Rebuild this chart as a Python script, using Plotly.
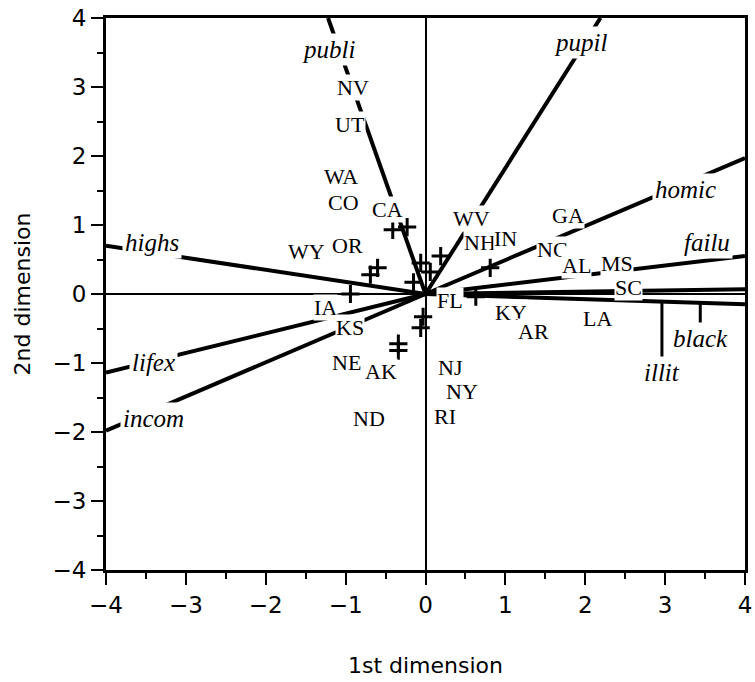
import plotly.graph_objects as go

# ---- variable vectors (end points where each vector meets the frame) ----
var_names = ["publi", "pupil", "homic", "failu", "black", "illit", "highs", "lifex", "incom"]
var_x = [-1.22, 2.19, 4.0, 4.0, 4.0, 4.0, -4.0, -4.0, -4.0]
var_y = [4.0, 4.0, 1.97, 0.55, 0.07, -0.15, 0.70, -1.14, -1.98]
# variable label positions
var_lab_x = [-1.21, 1.94, 3.25, 3.53, 3.44, 2.96, -3.43, -3.41, -3.40]
var_lab_y = [3.54, 3.65, 1.51, 0.75, -0.64, -1.14, 0.74, -0.99, -1.80]

# ---- labelled observations (states) ----
states = ["NV", "UT", "WA", "CO", "CA", "OR", "WY", "WV", "NH", "IN", "GA", "NC",
          "AL", "MS", "SC", "FL", "KY", "AR", "LA", "IA", "KS", "NE", "AK", "ND",
          "NJ", "NY", "RI"]
state_x = [-0.91, -0.94, -1.06, -1.03, -0.48, -0.98, -1.49, 0.58, 0.68, 1.00, 1.79, 1.59,
           1.89, 2.40, 2.54, 0.31, 1.07, 1.35, 2.15, -1.25, -0.94, -0.99, -0.56, -0.71,
           0.31, 0.46, 0.25]
state_y = [2.99, 2.45, 1.70, 1.33, 1.23, 0.71, 0.61, 1.09, 0.74, 0.81, 1.14, 0.64,
           0.42, 0.44, 0.10, -0.09, -0.27, -0.54, -0.35, -0.20, -0.49, -0.99, -1.13, -1.80,
           -1.06, -1.42, -1.78]

# ---- unlabelled observations (+) ----
plus_x = [-0.41, -0.23, 0.19, -0.60, -0.69, -0.06, -0.15, 0.81, 0.63, -0.03, -0.06,
          -0.34, -0.34, -0.94, 0.06]
plus_y = [0.93, 0.97, 0.55, 0.38, 0.28, 0.45, 0.17, 0.38, -0.04, -0.33, -0.49,
          -0.72, -0.82, 0.0, 0.32]

# variables whose labels hang from the lowest right-hand vector
leader_vars = ["black", "illit"]

fig = go.Figure()

# vectors from origin
for name, vx, vy in zip(var_names, var_x, var_y):
    fig.add_trace(go.Scatter(x=[0, vx], y=[0, vy], mode="lines",
                             line=dict(color="black", width=4), hoverinfo="skip",
                             showlegend=False))

# leader lines for black / illit
ix = var_names.index("illit")
slope = var_y[ix] / var_x[ix]
for v in leader_vars:
    i = var_names.index(v)
    lx = var_lab_x[i]
    fig.add_trace(go.Scatter(x=[lx, lx], y=[slope * lx, var_lab_y[i] + 0.15], mode="lines",
                             line=dict(color="black", width=3), hoverinfo="skip",
                             showlegend=False))

# plus markers
fig.add_trace(go.Scatter(x=plus_x, y=plus_y, mode="markers",
                         marker=dict(symbol="cross-thin", size=13,
                                     line=dict(color="black", width=3)),
                         hoverinfo="skip", showlegend=False))

ann = []
for s, sx, sy in zip(states, state_x, state_y):
    ann.append(dict(x=sx, y=sy, xref="x", yref="y", text=s, showarrow=False,
                    font=dict(family="Liberation Serif", size=22, color="black"),
                    bgcolor="white", borderpad=0))
for name, lx, ly in zip(var_names, var_lab_x, var_lab_y):
    ann.append(dict(x=lx, y=ly, xref="x", yref="y", text="<i>" + name + "</i>",
                    showarrow=False,
                    font=dict(family="Liberation Serif", size=25, color="black"),
                    bgcolor="white", borderpad=2))

axis_common = dict(range=[-4, 4], dtick=1, tick0=0, ticks="outside", ticklen=12,
                   tickwidth=2, tickcolor="black", showline=True, linewidth=3,
                   linecolor="black", mirror=True, showgrid=False, zeroline=True,
                   zerolinecolor="black", zerolinewidth=2, automargin=False,
                   ticklabeloverflow="allow",
                   minor=dict(dtick=0.5, ticks="outside", ticklen=6, tickwidth=2,
                              tickcolor="black"),
                   tickfont=dict(family="DejaVu Sans", size=23, color="black"))

fig.update_layout(
    width=755, height=682,
    margin=dict(l=106, r=10, t=18, b=112),
    plot_bgcolor="white", paper_bgcolor="white",
    xaxis=dict(**axis_common,
               title=dict(text="1st dimension", standoff=42,
                          font=dict(family="DejaVu Sans", size=22, color="black"))),
    yaxis=dict(**axis_common,
               title=dict(text="2nd dimension", standoff=16,
                          font=dict(family="DejaVu Sans", size=22, color="black"))),
    annotations=ann,
)

fig.write_html("out.html", config={"displayModeBar": False},
               post_script="document.body.style.margin='0';document.body.style.overflow='hidden';")
